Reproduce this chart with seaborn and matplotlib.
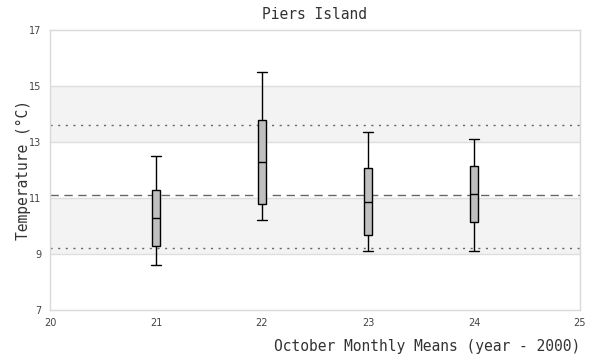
import numpy as np
import pandas as pd
import matplotlib
matplotlib.use("Agg")
import matplotlib.pyplot as plt
import seaborn as sns

# October monthly means, five-number summary per year (year - 2000)
years = [21, 22, 23, 24]
whisker_low = [8.61, 10.21, 9.10, 9.10]
q1 = [9.29, 10.79, 9.67, 10.13]
median = [10.29, 12.29, 10.85, 11.14]
q3 = [11.29, 13.79, 12.06, 12.13]
whisker_high = [12.5, 15.5, 13.37, 13.1]

# long-term reference lines
mean_line = 11.11
lower_line = 9.21
upper_line = 13.61
bands = [(9, 11), (13, 15)]

rows = []
for i, yr in enumerate(years):
    for v in (whisker_low[i], q1[i], median[i], q3[i], whisker_high[i]):
        rows.append({"year": yr, "temp": v})
df = pd.DataFrame(rows)

sns.set_style("white")
plt.rcParams["font.family"] = ["DejaVu Sans"]
mono = "DejaVu Sans Mono"

fig, ax = plt.subplots(figsize=(6, 3.6), dpi=100)
fig.subplots_adjust(left=50 / 600, right=580 / 600, top=1 - 30 / 360, bottom=1 - 310 / 360)

for lo, hi in bands:
    ax.axhspan(lo, hi, color="#f3f3f3", zorder=0, lw=0)
for y in [9, 11, 13, 15]:
    ax.axhline(y, color="#dedede", lw=1, zorder=0.5)

ax.axhline(mean_line, color="#666666", lw=1, ls=(0, (6, 4)), zorder=1)
ax.axhline(upper_line, color="#666666", lw=1, ls=(0, (1.5, 4)), zorder=1)
ax.axhline(lower_line, color="#666666", lw=1, ls=(0, (1.5, 4)), zorder=1)

sns.boxplot(data=df, x="year", y="temp", native_scale=True, width=0.075,
            whis=np.inf, color="#bfbfbf", linecolor="black", linewidth=1,
            fill=True, saturation=1, ax=ax, zorder=3, capwidths=0.085)

ax.set_xlim(20, 25)
ax.set_ylim(7, 17)
ax.set_xticks(range(20, 26))
ax.set_yticks(range(7, 18, 2))
ax.tick_params(length=0, labelsize=7, colors="#444444", pad=6)
for s in ax.spines.values():
    s.set_color("#d9d9d9")
    s.set_linewidth(1)

ax.set_title("Piers Island", fontfamily=mono, fontsize=10.5, color="#333333", pad=8)
ax.set_xlabel("October Monthly Means (year - 2000)", fontfamily=mono, fontsize=10.5,
              color="#333333", loc="right", labelpad=8)
ax.set_ylabel("Temperature (°C)", fontfamily=mono, fontsize=10.5, color="#333333", labelpad=-1)

fig.savefig("out.png", dpi=100)
